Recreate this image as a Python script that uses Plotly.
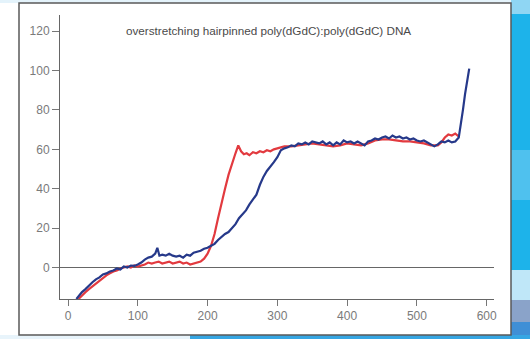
import plotly.graph_objects as go

# ---- data ----
blue_x = [12, 16, 20, 25, 30, 35, 40, 45, 50, 55, 60, 65, 70, 75, 80, 85, 90, 95, 100,
          105, 110, 115, 120, 125, 128, 131, 135, 140, 145, 150, 155, 160, 165, 170, 175,
          180, 185, 190, 195, 200, 205, 210, 215, 220, 225, 230, 235, 240, 245, 250, 255,
          260, 265, 270, 275, 280, 285, 290, 295, 300, 305, 310, 315, 320, 325, 330, 335,
          340, 345, 350, 355, 360, 365, 370, 375, 380, 385, 390, 395, 400, 405, 410, 415,
          420, 425, 430, 435, 440, 445, 450, 455, 460, 465, 470, 475, 480, 485, 490, 495,
          500, 505, 510, 515, 520, 525, 530, 535, 540, 545, 550, 555, 560, 563, 566, 569,
          572, 575]
blue_y = [-16, -14, -12.5, -11, -9, -7.5, -6, -5, -3.5, -3, -2, -1.5, -0.5, -1, 0.5, 0, 1,
          0.8, 1.5, 2.5, 4, 5, 5.5, 7, 10, 6, 6.5, 6, 7, 6, 5.5, 6, 5, 6.5, 6, 7.5, 8, 8.5,
          9.5, 10, 11, 12, 14, 15.5, 17, 18, 20, 22, 25, 27, 29, 32, 34.5, 37, 42, 46, 49,
          51, 53.5, 56, 59.5, 60.5, 61, 62, 61.5, 63, 62.5, 63.5, 62.5, 64, 63.5, 63, 64,
          62.5, 63.5, 62, 63.5, 62.5, 64.5, 63.5, 64, 63, 64, 63, 62, 64, 64.5, 65.5, 65,
          66, 66.5, 65.5, 67, 66, 66.5, 65.5, 66, 65, 65.5, 64.5, 64, 64.5, 63.5, 62.5,
          61.5, 62.5, 64, 63.5, 64.5, 63.5, 64, 66, 72, 80, 88, 95, 101]

red_x = [15, 20, 25, 30, 35, 40, 45, 50, 55, 60, 65, 70, 75, 80, 85, 90, 95, 100, 105, 110,
         115, 120, 125, 130, 135, 140, 145, 150, 155, 160, 165, 170, 175, 180, 185, 190,
         195, 200, 205, 210, 215, 220, 225, 230, 235, 240, 244, 248, 252, 256, 260, 265,
         270, 275, 280, 285, 290, 295, 300, 305, 310, 320, 330, 340, 350, 360, 370, 380,
         390, 400, 410, 420, 430, 440, 450, 460, 470, 480, 490, 500, 510, 520, 530, 535,
         540, 545, 550, 555, 560]
red_y = [-16, -14, -12.5, -11, -9.5, -8, -6.5, -5, -4, -3, -2, -1.5, -0.5, 0, 0.5, 0, 1,
         0.5, 1, 1.5, 2.5, 2, 2.5, 3, 2, 2.5, 3, 2, 2.5, 3, 2, 2.5, 1.5, 2, 2.5, 3, 4.5, 7,
         11, 17, 25, 33, 40, 47, 53, 58, 62, 59, 57.5, 58, 57, 58.5, 58, 59, 58.5, 59.5, 59,
         60, 60.5, 61, 61.5, 61.5, 62, 62.5, 63, 62.5, 62, 61.5, 62, 63, 62.5, 62, 63, 64.5,
         65, 65, 64.5, 64, 64, 63.5, 63, 62, 62, 63.5, 66, 67.5, 67, 68, 66.5]

x_ticks = [0, 100, 200, 300, 400, 500, 600]
y_ticks = [0, 20, 40, 60, 80, 100, 120]
title_text = "overstretching hairpinned poly(dGdC):poly(dGdC) DNA"

# ---- geometry helpers (pixel -> paper) ----
W, H = 530, 339
ML, MR, MT, MB = 60, 36, 15, 40
PW, PH = W - ML - MR, H - MT - MB


def px(x):
    return (x - ML) / PW


def py(y):
    return (H - MB - y) / PH


fig = go.Figure()
fig.add_trace(go.Scatter(x=red_x, y=red_y, mode="lines",
                         line=dict(color="#e23a3f", width=2.2), showlegend=False))
fig.add_trace(go.Scatter(x=blue_x, y=blue_y, mode="lines",
                         line=dict(color="#26398a", width=2.2), showlegend=False))

shapes = []


def rect(x0, y0, x1, y1, fill, line=None, lw=0, layer="below"):
    shapes.append(dict(type="rect", xref="paper", yref="paper",
                       x0=px(x0), x1=px(x1), y0=py(y1), y1=py(y0),
                       fillcolor=fill, line=dict(color=line or fill, width=lw),
                       layer=layer))


# background decoration (blue photo backdrop)
rect(0, 0, 530, 3, "#e4f3fb")
rect(511, 0, 530, 339, "#1db3ea")
rect(511, 0, 530, 14, "#8fd6f3")
rect(511, 150, 530, 200, "#4fc1ee")
rect(511, 270, 530, 300, "#bfe7f8")
rect(511, 300, 530, 322, "#8aa3c9")
rect(511, 322, 530, 339, "#3f8fd6")
rect(0, 335, 190, 339, "#e8f4fb")
rect(190, 335, 530, 339, "#36a6e3")
# white panel with dark border
rect(19, 3, 511, 335, "white", line="#5a5a5a", lw=1.5)

fig.update_layout(
    width=W, height=H, autosize=False,
    margin=dict(l=ML, r=MR, t=MT, b=MB, pad=0),
    paper_bgcolor="white", plot_bgcolor="rgba(0,0,0,0)",
    shapes=shapes,
    font=dict(family="Liberation Sans, Arial, sans-serif", color="#7a7a7a", size=12),
    annotations=[dict(text=title_text, xref="paper", yref="paper",
                      x=px(268), y=py(30), xanchor="center", yanchor="middle",
                      showarrow=False, font=dict(size=11.7, color="#4a4a4a"))],
    xaxis=dict(range=[-11.5, 610.5], tickvals=x_ticks, ticks="outside", ticklen=6,
               tickcolor="#777", showline=True, linecolor="#666", linewidth=1,
               showgrid=False, zeroline=False, tickfont=dict(size=12, color="#7a7a7a")),
    yaxis=dict(range=[-16, 128.2], tickvals=y_ticks, ticks="outside", ticklen=7,
               tickcolor="#777", showline=True, linecolor="#666", linewidth=1,
               showgrid=False, zeroline=True, zerolinecolor="#666", zerolinewidth=1,
               tickfont=dict(size=12, color="#7a7a7a")),
)

fig.write_html("out.html", config={"displayModeBar": False},
               post_script="document.body.style.margin='0';")
